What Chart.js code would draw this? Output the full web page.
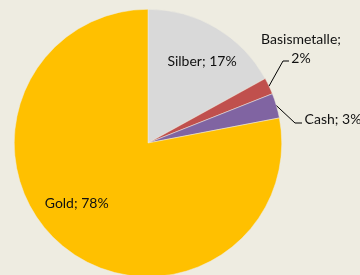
<!DOCTYPE html>
<html>
<head>
<meta charset="utf-8">
<script src="https://cdn.jsdelivr.net/npm/chart.js@4"></script>
<style>
    html, body { margin: 0; padding: 0; background: #EEECE1; }
    #wrap { width: 360px; height: 275px; overflow: hidden; position: relative; }
    #wrap canvas { position: absolute; left: 0; top: 0; }
</style>
</head>
<body>
<div id="wrap"><canvas id="pieChart" width="360" height="280"></canvas></div>
<script>
const categories = ['Silber', 'Basismetalle', 'Cash', 'Gold'];
const shares = [17, 2, 3, 78];
const sliceColors = ['#D9D9D9', '#C0504D', '#8064A2', '#FFC000'];

// label placement per slice: inside labels use a radius fraction,
// outside ones get a leader line to the text
const labelStyle = [
    { inside: true, r: 0.73, dAngle: 3 },
    { inside: false, elbow: [283, 61], end: [289, 61], lines: ['Basismetalle;', '2%'], textAt: [301, 39], lineGap: 19 },
    { inside: false, elbow: [295, 123], end: [302, 123], lines: ['Cash; 3%'], textAt: [333, 119], lineGap: 0 },
    { inside: true, r: 0.70, dAngle: 10 }
];

const labelPlugin = {
    id: 'sliceLabels',
    afterDatasetsDraw(chart) {
        const ctx = chart.ctx;
        const arcs = chart.getDatasetMeta(0).data;
        ctx.save();
        ctx.font = '14px Lato, "Liberation Sans", sans-serif';
        ctx.fillStyle = '#111';
        ctx.textAlign = 'center';
        ctx.textBaseline = 'middle';
        arcs.forEach((arc, i) => {
            const st = labelStyle[i];
            const mid = (arc.startAngle + arc.endAngle) / 2;
            if (st.inside) {
                const a = mid + st.dAngle * Math.PI / 180;
                const x = arc.x + Math.cos(a) * arc.outerRadius * st.r;
                const y = arc.y + Math.sin(a) * arc.outerRadius * st.r;
                ctx.fillText(categories[i] + '; ' + shares[i] + '%', x, y);
            } else {
                const sx = arc.x + Math.cos(mid) * arc.outerRadius;
                const sy = arc.y + Math.sin(mid) * arc.outerRadius;
                ctx.strokeStyle = '#000';
                ctx.lineWidth = 1;
                ctx.beginPath();
                ctx.moveTo(sx, sy);
                ctx.lineTo(st.elbow[0], st.elbow[1]);
                ctx.lineTo(st.end[0], st.end[1]);
                ctx.stroke();
                st.lines.forEach((t, k) => {
                    ctx.fillText(t, st.textAt[0], st.textAt[1] + k * st.lineGap);
                });
            }
        });
        ctx.restore();
    }
};

new Chart(document.getElementById('pieChart').getContext('2d'), {
    type: 'pie',
    data: {
        labels: categories,
        datasets: [{
            data: shares,
            backgroundColor: sliceColors,
            borderColor: '#EEECE1',
            borderWidth: 0.5
        }]
    },
    options: {
        responsive: false,
        animation: false,
        layout: {
            padding: { left: 14, right: 78, top: 9, bottom: 3 }
        },
        plugins: {
            legend: { display: false },
            tooltip: { enabled: false }
        }
    },
    plugins: [labelPlugin]
});
</script>
</body>
</html>
